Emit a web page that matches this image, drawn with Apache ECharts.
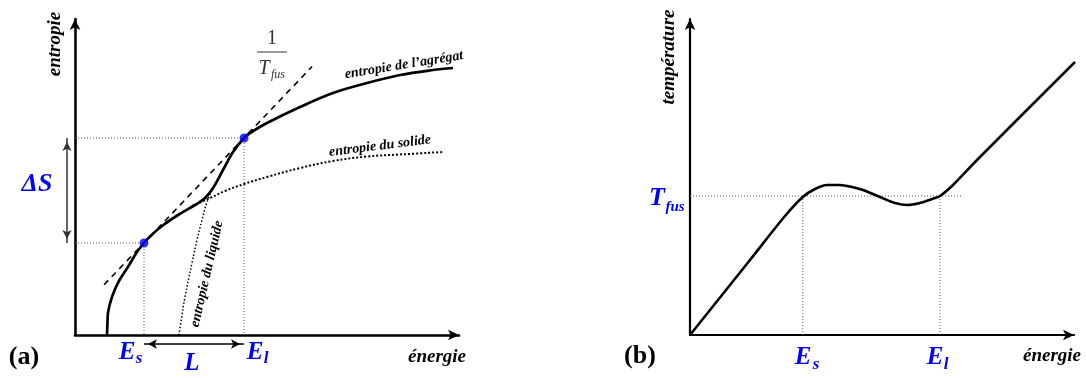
<!DOCTYPE html>
<html><head><meta charset="utf-8">
<script src="https://cdn.jsdelivr.net/npm/echarts@6/dist/echarts.min.js"></script>
<style>html,body{margin:0;padding:0;background:#fff}#c{width:1086px;height:378px}</style>
</head><body><div id="c"></div>
<script>
// ---------- Panel (a): entropy vs energy (arbitrary units) ----------
const aggregateEnergy  = [0.825, 0.838, 0.85, 0.954, 1.108, 1.366, 1.598, 1.778, 1.933, 2.242, 2.655, 3.093, 3.351, 3.557, 3.814, 4.072, 4.356, 4.51, 4.948, 5.799, 6.649, 7.526, 8.376, 9.227, 9.742];
const aggregateEntropy = [0, 0.41, 0.69, 1.19, 1.63, 2.13, 2.59, 2.875, 3.078, 3.406, 3.75, 4.0625, 4.281, 4.594, 5.156, 5.719, 6.156, 6.3125, 6.625, 7.125, 7.5625, 7.875, 8.125, 8.281, 8.344];

const solidEnergy  = [3.015, 3.479, 3.866, 4.356, 4.948, 5.799, 6.649, 7.526, 8.376, 9.485];
const solidEntropy = [4.031, 4.281, 4.5, 4.719, 4.9375, 5.219, 5.4375, 5.578, 5.641, 5.719];

const liquidEnergy  = [2.68, 2.758, 2.835, 3.015, 3.144, 3.273, 3.402, 3.557];
const liquidEntropy = [0, 0.625, 1.1875, 2.25, 2.969, 3.594, 4.156, 4.594];

const tangentEnergy  = [0.75, 6.11];
const tangentEntropy = [1.57, 8.39];

const pointEnergyA  = [1.778, 4.356];   // E_s, E_l
const pointEntropyA = [2.875, 6.156];   // S(E_s), S(E_l)
const deltaSEnergy = -0.206;            // position of the ΔS arrow
const latentEntropy = -0.281;           // position of the L arrow

// ---------- Panel (b): temperature vs energy ----------
const tempEnergy  = [0, 1.546, 2.448, 2.907, 3.222, 3.531, 3.866, 4.175, 4.459, 4.897, 5.284, 5.593, 5.928, 6.237, 6.443, 6.778, 7.397, 9.923];
const temperature = [0, 2.344, 3.719, 4.3125, 4.5625, 4.6875, 4.6875, 4.625, 4.531, 4.3125, 4.125, 4.0625, 4.125, 4.25, 4.344, 4.6875, 5.469, 8.531];
const pointEnergyB = [2.907, 6.443];    // E_s, E_l
const tFus = 4.344;
const tFusLineEnd = 7.04;

const X_MAX = 384 / 38.8, Y_MAX = 316 / 32;
const BLUE = '#0000ff';
const SERIF = '"Liberation Serif","Times New Roman",serif';

function pts(xs, ys) { return xs.map((x, i) => [x, ys[i]]); }

function xAx(gi, w, min, hidden) {
  return { type: 'value', gridIndex: gi, min: min, max: hidden ? 0 : X_MAX, show: !hidden,
    axisLine: { show: true, onZero: false, symbol: ['none', 'arrow'], symbolSize: [8, 11], lineStyle: { color: '#000', width: w } },
    axisTick: { show: false }, axisLabel: { show: false }, splitLine: { show: false } };
}
function yAx(gi, w, hidden) {
  return { type: 'value', gridIndex: gi, min: 0, max: Y_MAX, show: !hidden,
    axisLine: { show: true, onZero: false, symbol: ['none', 'arrow'], symbolSize: [8, 11], lineStyle: { color: '#000', width: w } },
    axisTick: { show: false }, axisLabel: { show: false }, splitLine: { show: false } };
}
function line(gi, data, style, extra) {
  return Object.assign({ type: 'line', xAxisIndex: gi, yAxisIndex: gi, data, symbol: 'none', silent: true,
    animation: false, lineStyle: style }, extra || {});
}
function txt(text, x, y, font, color, rot) {
  return { type: 'text', x, y, rotation: rot || 0, silent: true, z: 100,
    style: { text, font: font + ' ' + SERIF, fill: color || '#000', align: 'center', verticalAlign: 'middle',
             textAlign: 'center', textVerticalAlign: 'middle' } };
}

const guide = { color: '#555', width: 1, type: [1, 2] };

const series = [
  // panel (a) guides
  line(0, [[0, pointEntropyA[0]], [pointEnergyA[0], pointEntropyA[0]], [pointEnergyA[0], 0]], guide),
  line(0, [[0, pointEntropyA[1]], [pointEnergyA[1], pointEntropyA[1]], [pointEnergyA[1], 0]], guide),
  // tangent 1/T_fus
  line(0, pts(tangentEnergy, tangentEntropy), { color: '#000', width: 1.6, type: [6, 5] }),
  // solid and liquid entropy
  line(0, pts(solidEnergy, solidEntropy), { color: '#000', width: 2, type: [2, 2] }, { smooth: 0.4 }),
  line(0, pts(liquidEnergy, liquidEntropy), { color: '#000', width: 1.5, type: [1.5, 2] }, { smooth: 0.4 }),
  // aggregate entropy
  line(0, pts(aggregateEnergy, aggregateEntropy), { color: '#000', width: 2.7 }, { smooth: 0.35 }),
  // ΔS arrow (on a hidden grid sharing panel (a)'s entropy scale, left of its axis)
  line(2, [
      { value: [deltaSEnergy, pointEntropyA[0]], symbol: 'arrow', symbolRotate: 180, symbolOffset: [0, -4] },
      { value: [deltaSEnergy, pointEntropyA[1]], symbol: 'arrow', symbolRotate: 0, symbolOffset: [0, 4] }],
    { color: '#333', width: 1.5 }, { clip: false, symbolSize: [7, 9], itemStyle: { color: '#333' }, showSymbol: true }),
  // L arrow
  line(0, [
      { value: [pointEnergyA[0], latentEntropy], symbol: 'arrow', symbolRotate: 90, symbolOffset: [4, 0] },
      { value: [pointEnergyA[1], latentEntropy], symbol: 'arrow', symbolRotate: -90, symbolOffset: [-4, 0] }],
    { color: '#000', width: 1.5 }, { clip: false, symbolSize: [7, 9], itemStyle: { color: '#000' }, showSymbol: true }),
  // blue points
  { type: 'scatter', xAxisIndex: 0, yAxisIndex: 0, data: pts(pointEnergyA, pointEntropyA), symbolSize: 9,
    itemStyle: { color: BLUE }, silent: true, animation: false, z: 10 },

  // panel (b) guides
  line(1, [[0, tFus], [tFusLineEnd, tFus]], guide),
  line(1, [[pointEnergyB[0], tFus], [pointEnergyB[0], 0]], guide),
  line(1, [[pointEnergyB[1], tFus], [pointEnergyB[1], 0]], guide),
  // temperature curve
  line(1, pts(tempEnergy, temperature), { color: '#000', width: 2.6 }, { smooth: 0.3 })
];

const graphics = [
  txt('entropie', 55, 44, 'italic bold 19px', '#000', Math.PI / 2),
  txt('énergie', 437, 357, 'italic bold 19px'),
  txt('température', 669, 57, 'italic bold 19px', '#000', Math.PI / 2),
  txt('énergie', 1052, 356, 'italic bold 19px'),
  txt('(a)', 24, 357, 'bold 26px'),
  txt('(b)', 640, 356, 'bold 26px'),
  txt('ΔS', 37, 184, 'italic bold 26px', BLUE),
  txt('E', 127, 353, 'italic bold 25px', BLUE), txt('s', 139, 359, 'italic bold 17px', BLUE),
  txt('E', 255, 353, 'italic bold 25px', BLUE), txt('l', 266, 359, 'italic bold 17px', BLUE),
  txt('L', 192, 364, 'italic bold 25px', BLUE),
  txt('E', 803, 358, 'italic bold 25px', BLUE), txt('s', 816, 365, 'italic bold 17px', BLUE),
  txt('E', 935, 358, 'italic bold 25px', BLUE), txt('l', 946, 365, 'italic bold 17px', BLUE),
  txt('T', 657, 198, 'italic bold 26px', BLUE), txt('fus', 675, 207, 'italic bold 15px', BLUE),
  txt('1', 272, 39, '20px', '#333'),
  txt('T', 264, 69, 'italic 20px', '#333'), txt('fus', 278, 75, 'italic 12px', '#333'),
  { type: 'line', silent: true, z: 100, shape: { x1: 257, y1: 52, x2: 287, y2: 52 }, style: { stroke: '#555', lineWidth: 1.2 } },
  txt('entropie de l’agrégat', 404, 65, 'italic bold 14px', '#000', 0.162),
  txt('entropie du solide', 380, 146, 'italic bold 14px', '#000', 0.124),
  txt('entropie du liquide', 207, 274, 'italic bold 14px', '#000', 1.344)
];

const chart = echarts.init(document.getElementById('c'), null, { renderer: 'canvas' });
chart.setOption({
  animation: false,
  backgroundColor: '#fff',
  grid: [
    { left: 75, top: 19, width: 384, height: 316, containLabel: false, outerBoundsMode: 'none' },
    { left: 690, top: 19, width: 384, height: 316, containLabel: false, outerBoundsMode: 'none' },
    { left: 75 - 0.5 * 38.8, top: 19, width: 0.5 * 38.8, height: 316, containLabel: false, outerBoundsMode: 'none' }
  ],
  xAxis: [xAx(0, 2.6, 0), xAx(1, 2.2, 0), xAx(2, 1, -0.5, true)],
  yAxis: [yAx(0, 2.6), yAx(1, 2.2), yAx(2, 1, true)],
  series,
  graphic: graphics
});
</script>
</body></html>
